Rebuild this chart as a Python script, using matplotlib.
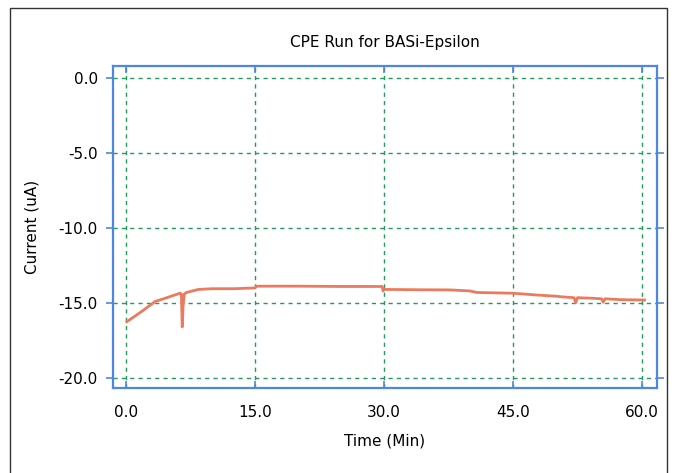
import matplotlib
matplotlib.use("Agg")
import matplotlib.pyplot as plt
from matplotlib.patches import Rectangle

# trace (minutes, microamps)
time_min = [0.1, 1.0, 2.0, 3.4, 4.5, 5.5, 6.3, 6.45, 6.55, 6.65, 6.8, 7.05, 8.4, 10.0,
            12.5, 15.0, 15.2, 20.0, 25.0, 29.8, 29.9, 30.0, 30.2, 30.7, 34.0, 37.7,
            40.0, 40.8, 45.0, 47.8, 50.0, 50.9, 52.1, 52.3, 52.5, 54.0, 55.3, 55.5,
            55.7, 57.5, 59.8, 60.3]
current_ua = [-16.25, -15.9, -15.5, -14.9, -14.7, -14.5, -14.35, -14.4, -16.6, -15.2,
              -14.4, -14.3, -14.1, -14.05, -14.05, -14.0, -13.88, -13.88, -13.9, -13.9,
              -14.2, -14.05, -14.1, -14.1, -14.12, -14.13, -14.2, -14.3, -14.35, -14.47,
              -14.55, -14.6, -14.65, -14.98, -14.65, -14.68, -14.72, -14.95, -14.72,
              -14.78, -14.8, -14.8]

x_ticks = [0, 15, 30, 45, 60]
y_ticks = [0, -5, -10, -15, -20]

blue = "#4f86e0"
green = "#1e9e5a"

fig = plt.figure(figsize=(6.75, 4.73), dpi=100)
fig.patches.append(Rectangle((10 / 675, -0.02), 657 / 675, 1 - 8 / 473 + 0.02,
                             transform=fig.transFigure, fill=False,
                             edgecolor="#333333", lw=1.0))
ax = fig.add_axes([113 / 675, 1 - 388 / 473, 544 / 675, 322 / 473])

ax.plot(time_min, current_ua, color="#ec7a5c", lw=2.0, solid_joinstyle="round")

ax.set_xlim(-1.5, 61.75)
ax.set_ylim(-20.67, 0.8)
ax.set_xticks(x_ticks)
ax.set_yticks(y_ticks)
ax.set_xticklabels([f"{v:.1f}" for v in x_ticks])
ax.set_yticklabels([f"{v:.1f}" for v in y_ticks])
ax.grid(True, color=green, ls=(0, (3, 3)), lw=1.0)

for s in ax.spines.values():
    s.set_color(blue)
    s.set_linewidth(1.6)
ax.tick_params(axis="x", direction="in", top=True, color=blue, length=5, width=1.2,
               labelsize=11, pad=12)
ax.tick_params(axis="y", direction="out", right=True, color=blue, length=5, width=1.2,
               labelsize=11, pad=6)

ax.set_title("CPE Run for BASi-Epsilon", fontsize=11, pad=14)
ax.set_xlabel("Time (Min)", fontsize=11, labelpad=10)
ax.set_ylabel("Current (uA)", fontsize=11, labelpad=14)

fig.savefig("out.png", dpi=100)
